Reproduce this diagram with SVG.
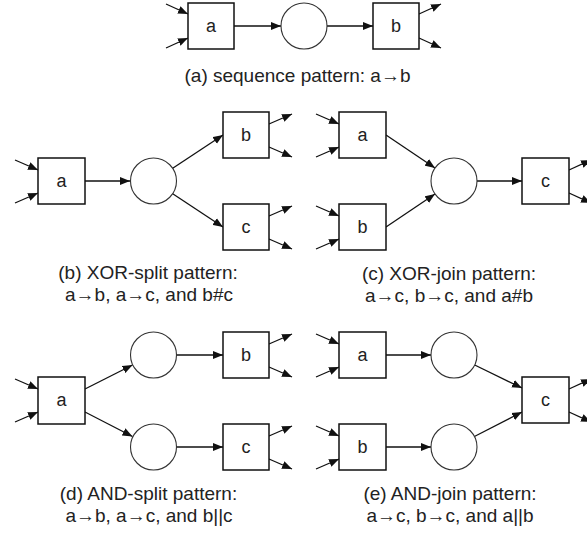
<svg xmlns="http://www.w3.org/2000/svg" width="587" height="535" viewBox="0 0 587 535">
<defs>
<marker id="ah" markerUnits="userSpaceOnUse" markerWidth="11" markerHeight="9" refX="10" refY="4" orient="auto" viewBox="0 0 11 8">
<path d="M0,0 L10,4 L0,8 z" fill="#111"/>
</marker>
<style>
.box{fill:#fff;stroke:#111;stroke-width:1.5}
.pl{fill:#fff;stroke:#333;stroke-width:1.1}
.lbl{font-family:"Liberation Sans",Arial,sans-serif;font-size:18px;fill:#222;text-anchor:middle}
.cap{font-family:"Liberation Sans",Arial,sans-serif;font-size:19px;fill:#222;text-anchor:middle}
#connectors line{stroke:#111;stroke-width:1.3;marker-end:url(#ah)}
</style>
</defs>
<rect width="587" height="535" fill="#fff"/>

<g id="connectors">
<!-- (a) -->
<line x1="166" y1="4" x2="188" y2="14"/>
<line x1="166" y1="48" x2="188" y2="38"/>
<line x1="234" y1="26" x2="281" y2="26"/>
<line x1="327" y1="26" x2="373" y2="26"/>
<line x1="419" y1="14" x2="441" y2="4"/>
<line x1="419" y1="38" x2="441" y2="48"/>
<!-- (b) -->
<line x1="15" y1="160" x2="38" y2="170"/>
<line x1="15" y1="203" x2="38" y2="193"/>
<line x1="85" y1="181" x2="130" y2="181"/>
<line x1="172.7" y1="168.3" x2="223" y2="135"/>
<line x1="172.7" y1="193.7" x2="223" y2="227"/>
<line x1="269" y1="124" x2="292" y2="114"/>
<line x1="269" y1="147" x2="292" y2="157"/>
<line x1="269" y1="216" x2="292" y2="206"/>
<line x1="269" y1="239" x2="292" y2="249"/>
<!-- (c) -->
<line x1="316" y1="114" x2="339" y2="124"/>
<line x1="316" y1="157" x2="339" y2="147"/>
<line x1="316" y1="206" x2="339" y2="216"/>
<line x1="316" y1="249" x2="339" y2="239"/>
<line x1="386" y1="135" x2="435" y2="168"/>
<line x1="386" y1="227" x2="435" y2="194"/>
<line x1="477" y1="181" x2="522" y2="181"/>
<line x1="569" y1="170" x2="591" y2="160"/>
<line x1="569" y1="193" x2="591" y2="203"/>
<!-- (d) -->
<line x1="15" y1="379" x2="38" y2="389"/>
<line x1="15" y1="422" x2="38" y2="412"/>
<line x1="85" y1="389" x2="132.5" y2="365"/>
<line x1="85" y1="412" x2="132.5" y2="436.5"/>
<line x1="177" y1="355" x2="223" y2="355"/>
<line x1="177" y1="447" x2="223" y2="447"/>
<line x1="269" y1="344" x2="292" y2="334"/>
<line x1="269" y1="367" x2="292" y2="377"/>
<line x1="269" y1="436" x2="292" y2="426"/>
<line x1="269" y1="459" x2="292" y2="469"/>
<!-- (e) -->
<line x1="316" y1="334" x2="339" y2="344"/>
<line x1="316" y1="377" x2="339" y2="367"/>
<line x1="316" y1="426" x2="339" y2="436"/>
<line x1="316" y1="469" x2="339" y2="459"/>
<line x1="386" y1="355" x2="431" y2="355"/>
<line x1="386" y1="447" x2="431" y2="447"/>
<line x1="474.7" y1="365" x2="522" y2="388"/>
<line x1="474.4" y1="436.5" x2="522" y2="412"/>
<line x1="569" y1="389" x2="591" y2="379"/>
<line x1="569" y1="412" x2="591" y2="422"/>
</g>

<!-- (a) -->
<g id="a-a"><rect class="box" x="188" y="3" width="46" height="46"/><text class="lbl" x="211" y="32">a</text></g>
<g id="a-p"><circle class="pl" cx="304" cy="26" r="23"/></g>
<g id="a-b"><rect class="box" x="373" y="3" width="46" height="46"/><text class="lbl" x="396" y="32">b</text></g>

<!-- (b) -->
<g id="b-a"><rect class="box" x="38" y="158" width="47" height="46"/><text class="lbl" x="61.5" y="187">a</text></g>
<g id="b-p"><circle class="pl" cx="153.5" cy="181" r="23"/></g>
<g id="b-b"><rect class="box" x="223" y="112" width="46" height="46"/><text class="lbl" x="246" y="141">b</text></g>
<g id="b-c"><rect class="box" x="223" y="204" width="46" height="46"/><text class="lbl" x="246" y="233">c</text></g>

<!-- (c) -->
<g id="c-a"><rect class="box" x="339" y="112" width="47" height="46"/><text class="lbl" x="362.5" y="141">a</text></g>
<g id="c-b"><rect class="box" x="339" y="204" width="47" height="46"/><text class="lbl" x="362.5" y="233">b</text></g>
<g id="c-p"><circle class="pl" cx="454" cy="181" r="23"/></g>
<g id="c-c"><rect class="box" x="522" y="158" width="47" height="46"/><text class="lbl" x="545.5" y="187">c</text></g>

<!-- (d) -->
<g id="d-a"><rect class="box" x="38" y="377" width="47" height="47"/><text class="lbl" x="61.5" y="406">a</text></g>
<g id="d-p1"><circle class="pl" cx="153.5" cy="355" r="23"/></g>
<g id="d-p2"><circle class="pl" cx="153.5" cy="447" r="23"/></g>
<g id="d-b"><rect class="box" x="223" y="332" width="46" height="46"/><text class="lbl" x="246" y="361">b</text></g>
<g id="d-c"><rect class="box" x="223" y="424" width="46" height="46"/><text class="lbl" x="246" y="453">c</text></g>

<!-- (e) -->
<g id="e-a"><rect class="box" x="339" y="332" width="47" height="46"/><text class="lbl" x="362.5" y="361">a</text></g>
<g id="e-b"><rect class="box" x="339" y="424" width="47" height="46"/><text class="lbl" x="362.5" y="453">b</text></g>
<g id="e-p1"><circle class="pl" cx="454" cy="355" r="23"/></g>
<g id="e-p2"><circle class="pl" cx="454" cy="447" r="23"/></g>
<g id="e-c"><rect class="box" x="522" y="377" width="47" height="46"/><text class="lbl" x="545.5" y="406">c</text></g>

<g id="captions">
<text class="cap" x="297.5" y="82">(a) sequence pattern: a→b</text>
<text class="cap" x="148" y="279">(b) XOR-split pattern:</text>
<text class="cap" x="149" y="301">a→b, a→c, and b#c</text>
<text class="cap" x="449" y="280">(c) XOR-join pattern:</text>
<text class="cap" x="449" y="302">a→c, b→c, and a#b</text>
<text class="cap" x="148.5" y="500">(d) AND-split pattern:</text>
<text class="cap" x="149" y="522">a→b, a→c, and b||c</text>
<text class="cap" x="450" y="500">(e) AND-join pattern:</text>
<text class="cap" x="450" y="522">a→c, b→c, and a||b</text>
</g>
</svg>
